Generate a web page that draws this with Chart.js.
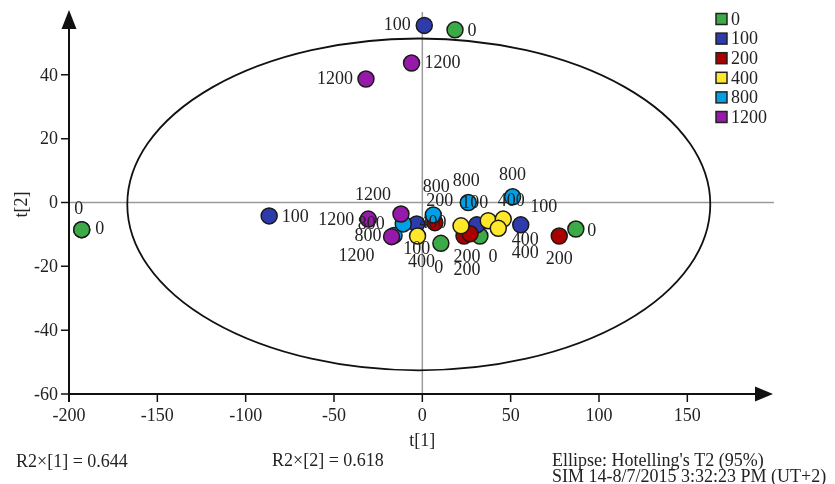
<!DOCTYPE html>
<html>
<head>
<meta charset="utf-8">
<script src="https://cdn.jsdelivr.net/npm/chart.js@4"></script>
<style>
  html, body { margin: 0; padding: 0; background: #fff; }
  #wrap { width: 835px; height: 484px; position: relative; }
</style>
</head>
<body>
<div id="wrap"><canvas id="scoreChart" width="835" height="484"></canvas></div>
<script>
// groups (dose) and their score values t[1], t[2]
const groups = ['0', '100', '200', '400', '800', '1200'];
const colors = ['#3caa46', '#2d3caa', '#aa0000', '#ffe82a', '#00a0e6', '#9619aa'];

const t1Group0 = [-192.8, -192.8, 18.5, 10.5, 32.6, 86.9];
const t2Group0 = [-8.5, -8.5, 54.1, -12.8, -10.5, -8.3];
const t1Group100 = [-86.7, 1.1, -3.2, 30.8, 55.7];
const t2Group100 = [-4.2, 55.5, -6.7, -7.0, -7.0];
const t1Group200 = [7.1, 23.6, 27.0, 77.5];
const t2Group200 = [-6.3, -10.5, -9.8, -10.5];
const t1Group400 = [-2.7, 21.9, 37.3, 45.8, 43.0];
const t2Group400 = [-10.5, -7.3, -5.7, -5.2, -8.1];
const t1Group800 = [-16.0, -10.8, 6.2, 26.0, 51.1];
const t2Group800 = [-10.3, -6.7, -3.9, 0.0, 1.8];
const t1Group1200 = [-30.6, -12.1, -17.4, -6.1, -31.9];
const t2Group1200 = [-5.2, -3.6, -10.7, 43.7, 38.7];

const t1Values = [t1Group0, t1Group100, t1Group200, t1Group400, t1Group800, t1Group1200];
const t2Values = [t2Group0, t2Group100, t2Group200, t2Group400, t2Group800, t2Group1200];

// where each point's text label sits relative to the point (px)
const labelOffsets = [
  [[18, 0], [-3, -20], [17, 1], [-2, 25], [13, 21], [16, 2]],
  [[26, 1], [-27, 0], [0, 25], [-2, -22], [23, -18]],
  [[5, -21], [3, 21], [-3, 36], [0, 23]],
  [[4, 26], [-28, -3], [37, 33], [8, -18], [27, 12]],
  [[-26, 1], [-32, 0], [3, -28], [-2, -21], [0, -22]],
  [[-32, 1], [-28, -19], [-35, 20], [31, 0], [-31, 0]]
];

const xTicks = [-200, -150, -100, -50, 0, 50, 100, 150];
const yTicks = [-60, -40, -20, 0, 20, 40];

// Hotelling's T2 (95%) ellipse
const ellipseCenter = [-2, -0.6];
const ellipseRadii = [165, 52];

const FONT = '18px "Liberation Serif", "DejaVu Serif", serif';
const TEXT = '#222';

const datasets = groups.map(function(g, i) {
  return {
    label: g,
    data: t1Values[i].map(function(x, j) { return { x: x, y: t2Values[i][j] }; }),
    backgroundColor: colors[i],
    borderColor: '#1a1a1a',
    borderWidth: 1.5,
    pointRadius: 8,
    pointHoverRadius: 8,
    order: groups.length - i   // later groups painted on top
  };
});

const decorations = {
  id: 'decorations',
  beforeDatasetsDraw(chart) {
    const ctx = chart.ctx;
    const xs = chart.scales.x, ys = chart.scales.y;
    const area = chart.chartArea;
    const x0 = xs.getPixelForValue(0), y0 = ys.getPixelForValue(0);
    ctx.save();
    // zero lines
    ctx.strokeStyle = '#9a9a9a';
    ctx.lineWidth = 1.5;
    ctx.beginPath();
    ctx.moveTo(area.left, y0); ctx.lineTo(area.right + 1, y0);
    ctx.moveTo(x0, area.top); ctx.lineTo(x0, area.bottom);
    ctx.stroke();
    // ellipse
    const cx = xs.getPixelForValue(ellipseCenter[0]);
    const cy = ys.getPixelForValue(ellipseCenter[1]);
    const rx = Math.abs(xs.getPixelForValue(ellipseCenter[0] + ellipseRadii[0]) - cx);
    const ry = Math.abs(ys.getPixelForValue(ellipseCenter[1] + ellipseRadii[1]) - cy);
    ctx.strokeStyle = '#111';
    ctx.lineWidth = 1.8;
    ctx.beginPath();
    ctx.ellipse(cx, cy, rx, ry, 0, 0, Math.PI * 2);
    ctx.stroke();
    ctx.restore();
  },
  afterDatasetsDraw(chart) {
    const ctx = chart.ctx;
    const xs = chart.scales.x, ys = chart.scales.y;
    const area = chart.chartArea;
    ctx.save();
    ctx.font = FONT;
    ctx.fillStyle = TEXT;
    ctx.textAlign = 'center';
    ctx.textBaseline = 'middle';
    // point labels
    chart.data.datasets.forEach(function(ds, i) {
      const meta = chart.getDatasetMeta(i);
      meta.data.forEach(function(el, j) {
        const off = labelOffsets[i][j];
        ctx.fillText(ds.label, el.x + off[0], el.y + off[1]);
      });
    });

    // axes
    const left = xs.getPixelForValue(-200);
    const bottom = ys.getPixelForValue(-60);
    ctx.strokeStyle = '#111';
    ctx.fillStyle = '#111';
    ctx.lineWidth = 2;
    ctx.beginPath();
    ctx.moveTo(left, bottom + 8); ctx.lineTo(left, area.top + 14);
    ctx.moveTo(left, bottom); ctx.lineTo(area.right - 14, bottom);
    ctx.stroke();
    // arrow heads
    ctx.beginPath();
    ctx.moveTo(left, area.top - 2); ctx.lineTo(left - 7.5, area.top + 17); ctx.lineTo(left + 7.5, area.top + 17);
    ctx.closePath(); ctx.fill();
    ctx.beginPath();
    ctx.moveTo(area.right, bottom); ctx.lineTo(area.right - 18, bottom - 7.5); ctx.lineTo(area.right - 18, bottom + 7.5);
    ctx.closePath(); ctx.fill();

    // ticks
    ctx.lineWidth = 1.5;
    ctx.fillStyle = TEXT;
    ctx.beginPath();
    xTicks.forEach(function(v) {
      const px = xs.getPixelForValue(v);
      ctx.moveTo(px, bottom); ctx.lineTo(px, bottom + 8);
    });
    yTicks.forEach(function(v) {
      const py = ys.getPixelForValue(v);
      ctx.moveTo(left - 8, py); ctx.lineTo(left, py);
    });
    ctx.stroke();
    ctx.textAlign = 'center';
    xTicks.forEach(function(v) {
      ctx.fillText(String(v), xs.getPixelForValue(v), bottom + 22);
    });
    ctx.textAlign = 'right';
    yTicks.forEach(function(v) {
      ctx.fillText(String(v), left - 11, ys.getPixelForValue(v) + 1);
    });

    // axis titles
    ctx.textAlign = 'center';
    ctx.fillText('t[1]', xs.getPixelForValue(0), bottom + 47);
    ctx.save();
    ctx.translate(22, ys.getPixelForValue(0) + 2);
    ctx.rotate(-Math.PI / 2);
    ctx.fillText('t[2]', 0, 0);
    ctx.restore();

    // legend
    ctx.textAlign = 'left';
    chart.data.datasets.forEach(function(ds, i) {
      const yy = 19 + i * 19.6;
      ctx.fillStyle = ds.backgroundColor;
      ctx.fillRect(716, yy - 5.5, 11, 11);
      ctx.strokeStyle = '#222';
      ctx.lineWidth = 1.5;
      ctx.strokeRect(716, yy - 5.5, 11, 11);
      ctx.fillStyle = TEXT;
      ctx.fillText(ds.label, 731, yy + 1);
    });

    // footer texts
    ctx.fillText('R2\u00d7[1] = 0.644', 16, 462);
    ctx.fillText('R2\u00d7[2] = 0.618', 272, 461);
    ctx.fillText("Ellipse: Hotelling's T2 (95%)", 552, 461);
    ctx.fillText('SIM 14-8/7/2015 3:32:23 PM (UT+2)', 552, 477);
    ctx.restore();
  }
};

const ctx = document.getElementById('scoreChart').getContext('2d');
const scoreChart = new Chart(ctx, {
  type: 'scatter',
  data: { datasets: datasets },
  options: {
    responsive: false,
    animation: false,
    layout: { padding: { left: 69, right: 62, top: 12, bottom: 90 } },
    plugins: { legend: { display: false }, tooltip: { enabled: false } },
    scales: {
      x: { type: 'linear', min: -200, max: 198.5, display: false },
      y: { type: 'linear', min: -60, max: 59.7, display: false }
    }
  },
  plugins: [decorations]
});
</script>
</body>
</html>
